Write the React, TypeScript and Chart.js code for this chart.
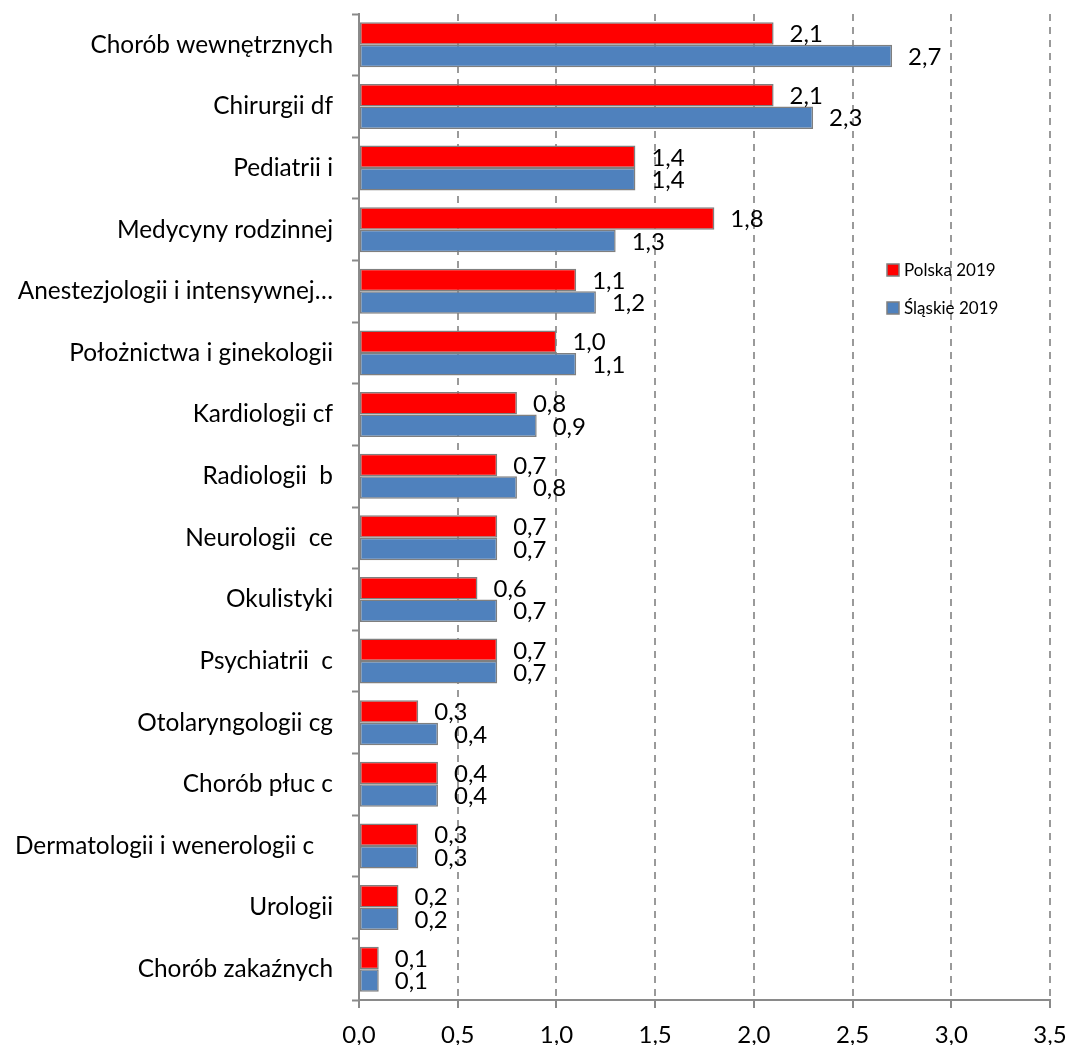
import React, { useEffect, useRef } from 'react';
import { Chart, registerables } from 'chart.js';

Chart.register(...registerables);

const categories = [
  'Chorób wewnętrznych',
  'Chirurgii df',
  'Pediatrii i',
  'Medycyny rodzinnej',
  'Anestezjologii i intensywnej…',
  'Położnictwa i ginekologii',
  'Kardiologii cf',
  'Radiologii  b',
  'Neurologii  ce',
  'Okulistyki',
  'Psychiatrii  c',
  'Otolaryngologii cg',
  'Chorób płuc c',
  'Dermatologii i wenerologii c   ',
  'Urologii',
  'Chorób zakaźnych',
];

const polska2019 = [2.1, 2.1, 1.4, 1.8, 1.1, 1.0, 0.8, 0.7, 0.7, 0.6, 0.7, 0.3, 0.4, 0.3, 0.2, 0.1];
const slaskie2019 = [2.7, 2.3, 1.4, 1.3, 1.2, 1.1, 0.9, 0.8, 0.7, 0.7, 0.7, 0.4, 0.4, 0.3, 0.2, 0.1];

const seriesNames = ['Polska 2019', 'Śląskie 2019'];
const seriesColors = ['#FF0000', '#4F81BD'];

const xMin = 0;
const xMax = 3.5;
const xStep = 0.5;

const FONT = 'Lato, "Noto Sans", sans-serif';
const CAT_SIZE = 24.4;
const MAIN_SIZE = 24;
const LEGEND_SIZE = 17;

const fmt = (v: number) => Number(v).toFixed(1).replace('.', ',');

const valueLabels = {
  id: 'valueLabels',
  afterDatasetsDraw(chart: any) {
    const ctx = chart.ctx;
    ctx.save();
    ctx.font = `${MAIN_SIZE}px ${FONT}`;
    ctx.fillStyle = '#000';
    ctx.textAlign = 'left';
    ctx.textBaseline = 'middle';
    chart.data.datasets.forEach((ds: any, i: number) => {
      const meta = chart.getDatasetMeta(i);
      meta.data.forEach((bar: any, j: number) => {
        ctx.fillText(fmt(ds.data[j]), bar.x + 16, bar.y + 1);
      });
    });
    ctx.restore();
  },
};

const insideLegend = {
  id: 'insideLegend',
  afterDraw(chart: any) {
    const ctx = chart.ctx;
    const x = 887;
    const ys = [270, 308];
    ctx.save();
    ctx.font = `${LEGEND_SIZE}px ${FONT}`;
    ctx.textBaseline = 'middle';
    ctx.textAlign = 'left';
    chart.data.datasets.forEach((ds: any, i: number) => {
      const y = ys[i];
      ctx.fillStyle = ds.backgroundColor;
      ctx.fillRect(x, y - 6, 12, 12);
      ctx.strokeStyle = '#7f7f7f';
      ctx.lineWidth = 1.5;
      ctx.strokeRect(x, y - 6, 12, 12);
      ctx.fillStyle = '#000';
      ctx.fillText(ds.label, x + 17, y + 1);
    });
    ctx.restore();
  },
};

export default function App() {
  const canvasRef = useRef<HTMLCanvasElement | null>(null);

  useEffect(() => {
    if (!canvasRef.current) return;
    const chart = new Chart(canvasRef.current, {
      type: 'bar',
      data: {
        labels: categories,
        datasets: [
          {
            label: seriesNames[0],
            data: polska2019,
            backgroundColor: seriesColors[0],
            borderColor: '#7f7f7f',
            borderWidth: 1.5,
            borderSkipped: false,
            categoryPercentage: 0.73,
            barPercentage: 1,
          },
          {
            label: seriesNames[1],
            data: slaskie2019,
            backgroundColor: seriesColors[1],
            borderColor: '#7f7f7f',
            borderWidth: 1.5,
            borderSkipped: false,
            categoryPercentage: 0.73,
            barPercentage: 1,
          },
        ],
      },
      options: {
        indexAxis: 'y',
        responsive: false,
        animation: false,
        layout: { padding: { top: 14, right: 19, bottom: 0, left: 0 } },
        plugins: {
          legend: { display: false },
          tooltip: { enabled: false },
        },
        scales: {
          x: {
            type: 'linear',
            min: xMin,
            max: xMax,
            ticks: {
              stepSize: xStep,
              callback: (v: any) => fmt(v),
              color: '#000',
              font: { family: FONT, size: MAIN_SIZE },
              padding: 13,
            },
            grid: {
              color: '#9a9a9a',
              lineWidth: 2,
              tickLength: 8,
              tickColor: '#8a8a8a',
              tickWidth: 2,
            },
            border: { display: true, color: '#8a8a8a', width: 2, dash: [7, 6] },
            afterFit: (s: any) => {
              s.height = 45;
              s.paddingLeft = 0;
              s.paddingRight = 0;
            },
          },
          y: {
            type: 'category',
            ticks: {
              color: '#000',
              font: { family: FONT, size: CAT_SIZE },
              padding: 19,
              autoSkip: false,
            },
            grid: {
              display: true,
              drawOnChartArea: false,
              drawTicks: true,
              tickLength: 7,
              tickColor: '#8a8a8a',
              tickWidth: 2,
              color: '#8a8a8a',
              offset: true,
            },
            border: { display: true, color: '#8a8a8a', width: 2 },
            afterFit: (s: any) => {
              s.width = 359;
              s.paddingTop = 0;
              s.paddingBottom = 0;
            },
          },
        },
      } as any,
      plugins: [valueLabels, insideLegend],
    });
    return () => chart.destroy();
  }, []);

  return (
    <div style={{ position: 'absolute', left: 0, top: 0, width: 1069, height: 1045, background: '#fff' }}>
      <canvas ref={canvasRef} width={1069} height={1045} style={{ display: 'block' }} />
    </div>
  );
}
